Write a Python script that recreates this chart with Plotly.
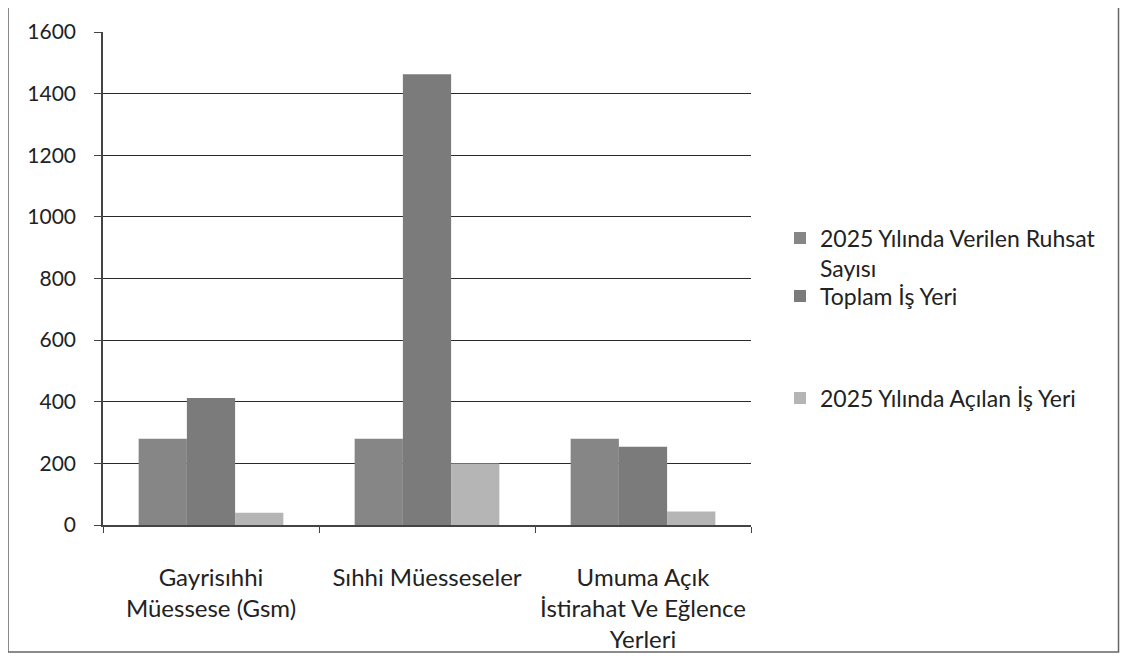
import plotly.graph_objects as go

categories = ["Gayrisıhhi<br>Müessese (Gsm)", "Sıhhi Müesseseler", "Umuma Açık<br>İstirahat Ve Eğlence<br>Yerleri"]
series_names = ["2025 Yılında Verilen Ruhsat<br>Sayısı", "Toplam İş Yeri", "2025 Yılında Açılan İş Yeri"]
ruhsat = [280, 280, 280]
toplam = [412, 1463, 254]
acilan = [40, 200, 44]
y_ticks = [0, 200, 400, 600, 800, 1000, 1200, 1400, 1600]

colors = ["#868686", "#7b7b7b", "#b5b5b5"]
FONT = "Lato"

fig = go.Figure()
legends = ["legend", "legend2", "legend3"]
for name, vals, col, lg in zip(series_names, [ruhsat, toplam, acilan], colors, legends):
    fig.add_trace(go.Bar(x=categories, y=vals, name=name, marker=dict(color=col, line=dict(width=0)),
                         legend=lg))

OFF = 8  # page body margin
W, H = 1128 - 2 * OFF, 661 - 2 * OFF
L, R, T, B = 103 - OFF, 751 - OFF, 32 - OFF, 525 - OFF
pw, ph = R - L, B - T

def px(x):
    return (x - OFF - L) / pw

def py(y):
    return (B - (y - OFF)) / ph

legend_common = dict(font=dict(family=FONT, size=23, color="#222"), bgcolor="rgba(0,0,0,0)",
                     xanchor="left", yanchor="middle", valign="top", itemclick=False)

fig.update_layout(
    width=W, height=H,
    margin=dict(l=L, r=W - R, t=T, b=H - B, autoexpand=False),
    paper_bgcolor="white", plot_bgcolor="white",
    barmode="group", bargap=0.33, bargroupgap=0,
    font=dict(family=FONT, size=21, color="#222"),
    showlegend=True,
    legend=dict(x=px(780), y=py(253), **legend_common),
    legend2=dict(x=px(780), y=py(296), **legend_common),
    legend3=dict(x=px(780), y=py(398), **legend_common),
    xaxis=dict(showline=True, linecolor="#444", linewidth=1.5, ticks="outside", tickson="boundaries",
               ticklen=6, tickcolor="#444", tickfont=dict(family=FONT, size=24, color="#222"),
               ticklabelstandoff=30, showgrid=False, automargin=False),
    yaxis=dict(range=[0, 1600], tickvals=y_ticks, showline=True, linecolor="#444", linewidth=1.5,
               ticks="outside", ticklen=7, tickcolor="#444", showgrid=True, gridcolor="#2a2a2a", gridwidth=1.4,
               tickfont=dict(family=FONT, size=21, color="#222"), ticklabelstandoff=14, zeroline=False,
               automargin=False),
    shapes=[dict(type="rect", xref="paper", yref="paper", x0=px(8), x1=px(1118.5), y0=py(652), y1=py(5),
                 line=dict(color="#666", width=1.5), fillcolor="rgba(0,0,0,0)", layer="below")],
)

fig.write_html("out.html")
